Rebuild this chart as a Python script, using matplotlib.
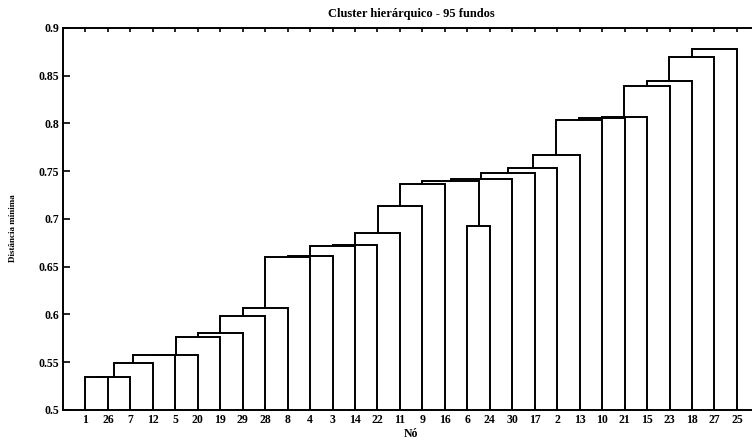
import numpy as np
import matplotlib
matplotlib.use("Agg")
import matplotlib.pyplot as plt

# leaf order along the x axis (fund numbers)
leaf_order = [1, 26, 7, 12, 5, 20, 19, 29, 28, 8, 4, 3, 14, 22, 11,
              9, 16, 6, 24, 30, 17, 2, 13, 10, 21, 15, 23, 18, 27, 25]

# linkage: node ids 1..30 are leaves, 31.. are the merged clusters (MATLAB style)
z_left = [1, 31, 32, 33, 34, 35, 36, 37, 38, 39, 40, 41, 42, 43, 6,
          44, 46, 47, 48, 49, 50, 51, 52, 53, 54, 55, 56, 57, 58]
z_right = [26, 7, 12, 5, 20, 19, 29, 28, 8, 4, 3, 14, 22, 11, 24,
           9, 16, 45, 30, 17, 2, 13, 10, 21, 15, 23, 18, 27, 25]
z_height = [0.5345, 0.5350, 0.5495, 0.5575, 0.5578, 0.5761, 0.5810, 0.5984,
            0.6065, 0.6605, 0.6608, 0.6720, 0.6724, 0.6855, 0.6927, 0.7139,
            0.7363, 0.7393, 0.7416, 0.7479, 0.7531, 0.7670, 0.8040, 0.8060,
            0.8066, 0.8393, 0.8445, 0.8700, 0.8780]

n = len(leaf_order)
yticks = [0.5, 0.55, 0.6, 0.65, 0.7, 0.75, 0.8, 0.85, 0.9]

plt.rcParams['font.family'] = ['Liberation Serif', 'DejaVu Serif']
plt.rcParams['font.weight'] = 'bold'

fig = plt.figure(figsize=(7.52, 4.42), dpi=100)
ax = fig.add_axes([0.0838, 0.0724, 0.926, 0.8643])

# positions of every node
xpos = {}
ypos = {}
for i, leaf in enumerate(leaf_order):
    xpos[leaf] = i + 1
    ypos[leaf] = 0.0

for k in range(len(z_height)):
    a, b, h = z_left[k], z_right[k], z_height[k]
    ax.plot([xpos[a], xpos[a], xpos[b], xpos[b]],
            [ypos[a], h, h, ypos[b]], color='black', lw=1.4,
            solid_joinstyle='miter')
    node = n + 1 + k
    xpos[node] = (xpos[a] + xpos[b]) / 2
    ypos[node] = h

ax.set_xlim(0, n + 1)
ax.set_ylim(0.5, 0.9)
ax.set_xticks(range(1, n + 1))
ax.set_xticklabels([str(v) for v in leaf_order])
ax.set_yticks(yticks)
ax.set_yticklabels(['0.5', '0.55', '0.6', '0.65', '0.7', '0.75', '0.8', '0.85', '0.9'])
ax.tick_params(direction='in', top=True, right=True, width=1.2,
               labelsize=8.5, pad=3)
ax.tick_params(axis='x', length=3)
ax.tick_params(axis='y', length=5)
for s in ax.spines.values():
    s.set_linewidth(1.4)

ax.set_title('Cluster hierárquico - 95 fundos', fontsize=9, fontweight='bold', pad=8)
ax.set_xlabel('Nó', fontsize=8.5, fontweight='bold', labelpad=1)
ax.set_ylabel('Distância mínima', fontsize=6.5, fontweight='bold')
ax.yaxis.set_label_coords(-0.066, 0.476)

fig.savefig('out.png', dpi=100)
